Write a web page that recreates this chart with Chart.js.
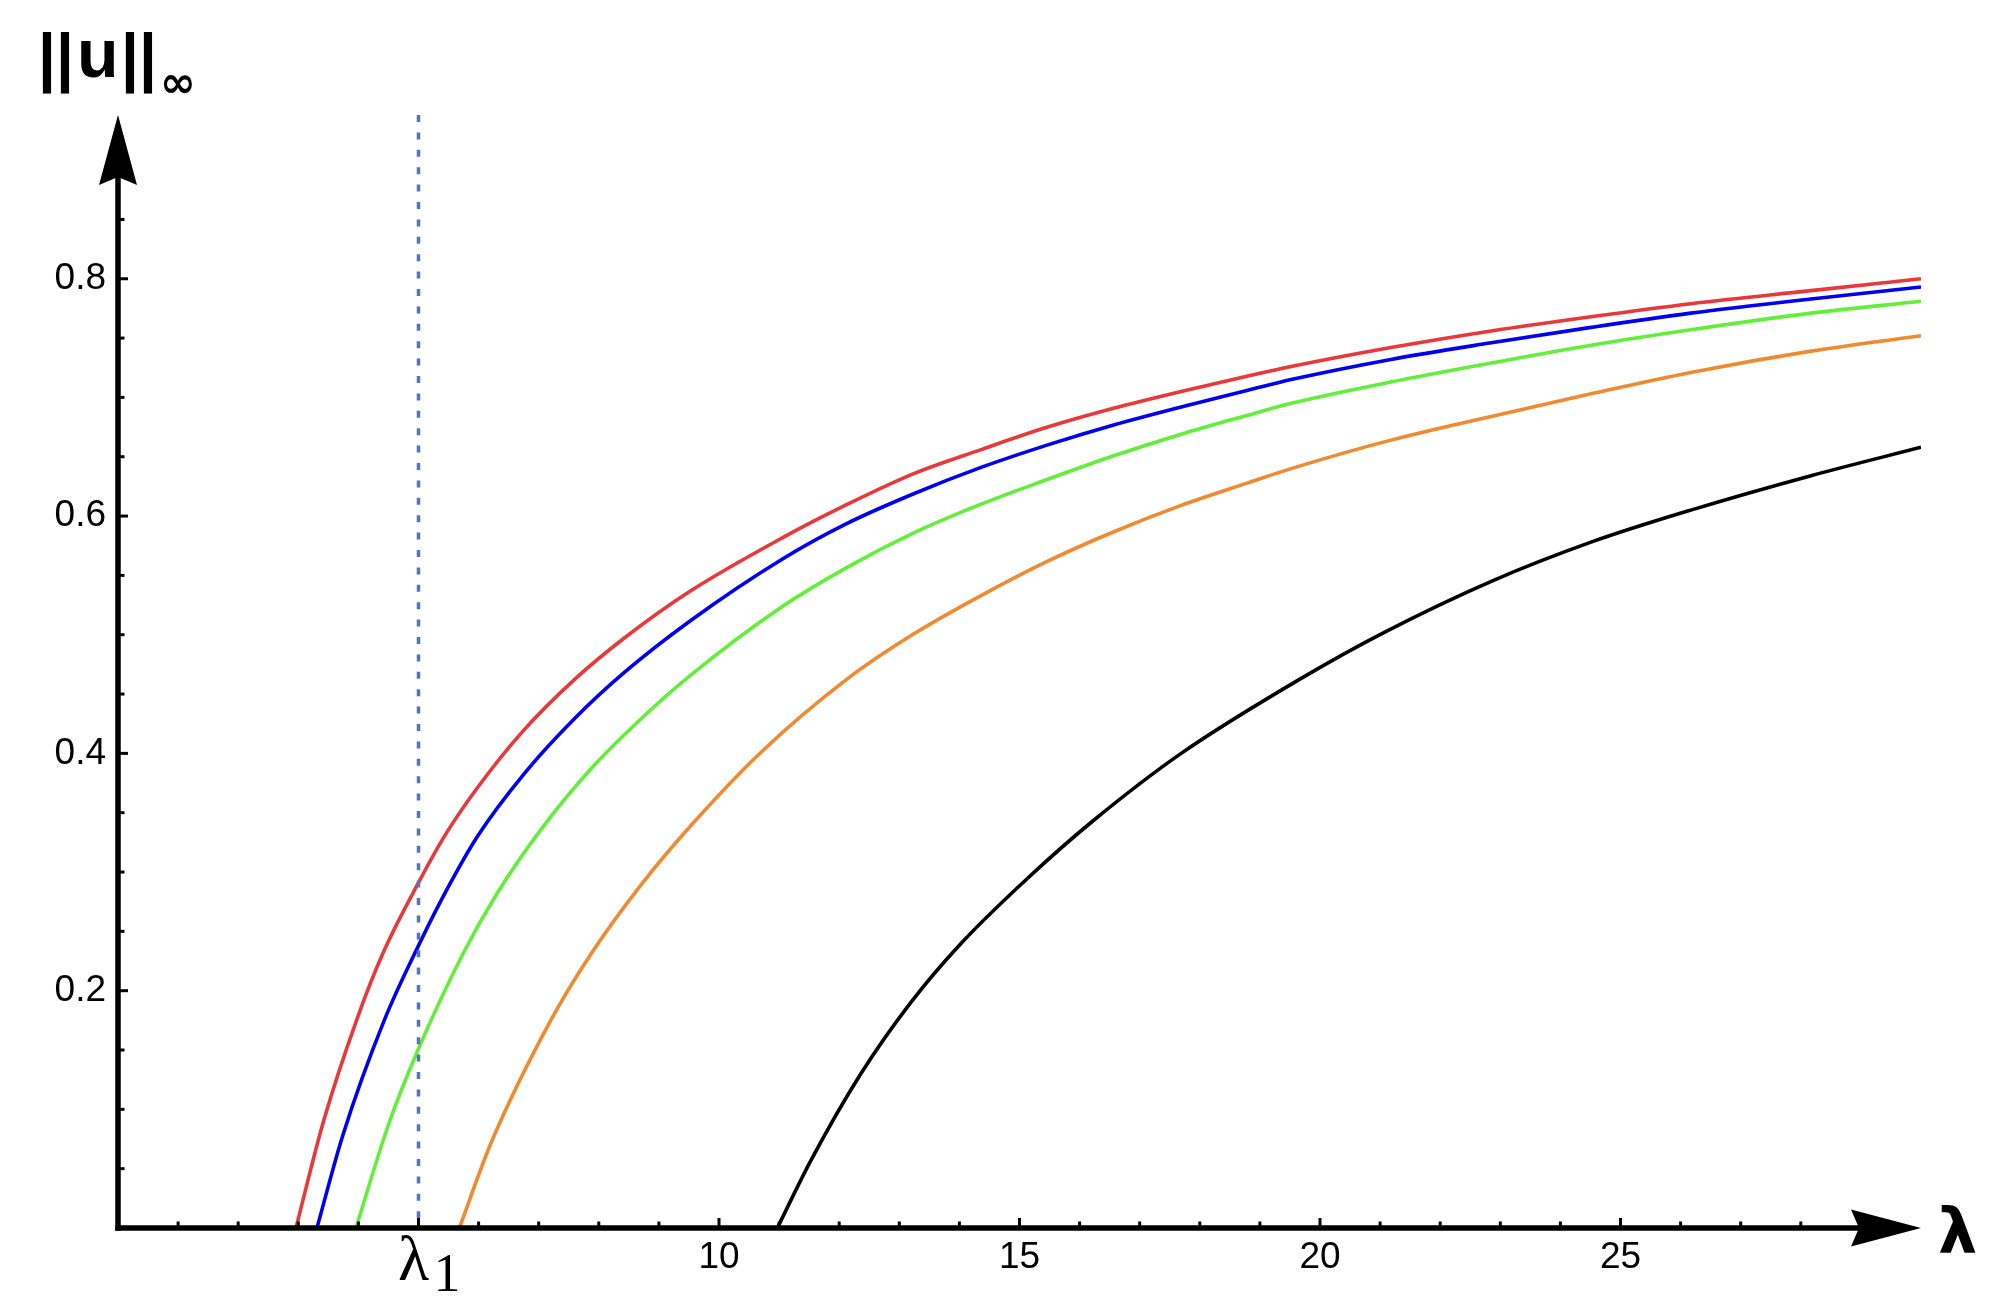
<!DOCTYPE html>
<html>
<head>
<meta charset="utf-8">
<script src="https://cdn.jsdelivr.net/npm/chart.js@4.4.1/dist/chart.umd.min.js"></script>
<style>
html,body{margin:0;padding:0;background:#fff;}
canvas{display:block;}
</style>
</head>
<body>
<canvas id="c" width="1997" height="1303"></canvas>
<script>
// ---- data ----
const lambdaRed = [2.96, 3.42, 3.99, 4.43, 5.0, 5.43, 5.98, 6.76, 7.59, 8.42, 9.53, 11.03, 12.14, 13.25, 14.36, 15.47, 16.58, 17.69, 18.8, 19.52, 21.18, 22.85, 24.51, 26.17, 28.17, 30];
const normRed   = [0, 0.09, 0.178, 0.234, 0.291, 0.33, 0.371, 0.42, 0.462, 0.497, 0.537, 0.581, 0.61, 0.636, 0.656, 0.675, 0.691, 0.705, 0.718, 0.726, 0.742, 0.756, 0.768, 0.779, 0.79, 0.8];

const lambdaBlue = [3.31, 3.74, 4.43, 5.0, 5.48, 5.98, 6.76, 7.59, 8.42, 9.53, 11.03, 12.14, 13.25, 14.36, 15.47, 16.58, 17.69, 18.8, 19.52, 21.18, 22.85, 24.51, 26.17, 28.17, 30];
const normBlue   = [0, 0.078, 0.175, 0.238, 0.286, 0.33, 0.383, 0.429, 0.468, 0.512, 0.563, 0.594, 0.619, 0.641, 0.66, 0.677, 0.692, 0.706, 0.715, 0.732, 0.746, 0.759, 0.771, 0.783, 0.793];

const lambdaGreen = [3.96, 4.5, 5.0, 5.76, 6.32, 7.04, 7.87, 8.7, 9.53, 11.03, 12.14, 13.25, 14.36, 15.47, 16.58, 17.69, 18.8, 19.52, 21.18, 22.85, 24.51, 26.17, 28.17, 30];
const normGreen   = [0, 0.087, 0.151, 0.233, 0.283, 0.336, 0.387, 0.429, 0.466, 0.523, 0.557, 0.586, 0.61, 0.631, 0.651, 0.669, 0.685, 0.695, 0.713, 0.729, 0.744, 0.757, 0.771, 0.781];

const lambdaOrange = [5.68, 6.21, 7.2, 7.87, 8.7, 9.53, 10.7, 12.14, 13.25, 14.36, 15.47, 16.58, 17.69, 18.8, 19.52, 21.18, 22.85, 24.51, 26.17, 28.17, 30];
const normOrange   = [0, 0.072, 0.175, 0.231, 0.289, 0.339, 0.401, 0.463, 0.501, 0.533, 0.562, 0.587, 0.609, 0.628, 0.64, 0.664, 0.684, 0.703, 0.721, 0.739, 0.752];

const lambdaBlack = [10.97, 11.53, 12.36, 13.19, 14.03, 15.14, 16.22, 17.69, 19.68, 21.07, 22.85, 24.51, 26.17, 28.17, 30];
const normBlack   = [0, 0.057, 0.13, 0.19, 0.24, 0.295, 0.343, 0.4, 0.463, 0.502, 0.545, 0.578, 0.605, 0.634, 0.658];

const lambda1 = 5;
const xTickLabels = ['10', '15', '20', '25'];
const yTickLabels = ['0.2', '0.4', '0.6', '0.8'];
const xMin = 0, xMax = 30, yMin = 0, yMax = 0.938;

// ---- helpers ----
function pts(xs, ys) { return xs.map((x, i) => ({ x: x, y: ys[i] })); }
function curve(xs, ys, color) {
  return {
    data: pts(xs, ys), borderColor: color, borderWidth: 3.6, showLine: true,
    pointRadius: 0, fill: false, cubicInterpolationMode: 'monotone',
    borderJoinStyle: 'round', order: 2
  };
}
const TICK_FONT = { family: '"Liberation Sans", Arial, sans-serif', size: 37 };

const axesPlugin = {
  id: 'axesPlugin',
  afterDatasetsDraw(chart) {
    const ctx = chart.ctx, x = chart.scales.x, y = chart.scales.y;
    const x0 = x.getPixelForValue(xMin), y0 = y.getPixelForValue(yMin);
    const xEnd = x.getPixelForValue(xMax), yTop = y.getPixelForValue(yMax);
    ctx.save();
    ctx.strokeStyle = '#000'; ctx.fillStyle = '#000';
    ctx.lineWidth = 3;
    for (let v = 1; v < xMax; v++) {
      const px = x.getPixelForValue(v);
      const major = v % 5 === 0;
      ctx.beginPath(); ctx.moveTo(px, y0); ctx.lineTo(px, y0 - (major ? 10 : 6.5)); ctx.stroke();
    }
    for (let i = 1; i * 0.05 < yMax - 0.06; i++) {
      const py = y.getPixelForValue(i * 0.05);
      const major = i % 4 === 0;
      ctx.beginPath(); ctx.moveTo(x0, py); ctx.lineTo(x0 + (major ? 10 : 6.5), py); ctx.stroke();
    }
    ctx.lineWidth = 5.5; ctx.lineCap = 'butt';
    ctx.beginPath(); ctx.moveTo(x0 - 2.75, y0); ctx.lineTo(xEnd - 50, y0); ctx.stroke();
    ctx.beginPath(); ctx.moveTo(x0, y0 + 2.75); ctx.lineTo(x0, yTop + 50); ctx.stroke();
    ctx.beginPath();
    ctx.moveTo(xEnd, y0); ctx.lineTo(xEnd - 70, y0 - 18.5); ctx.lineTo(xEnd - 62, y0); ctx.lineTo(xEnd - 70, y0 + 18.5);
    ctx.closePath(); ctx.fill();
    ctx.beginPath();
    ctx.moveTo(x0, yTop); ctx.lineTo(x0 - 19, yTop + 70); ctx.lineTo(x0, yTop + 62); ctx.lineTo(x0 + 19, yTop + 70);
    ctx.closePath(); ctx.fill();
    ctx.restore();
  },
  afterDraw(chart) {
    const ctx = chart.ctx, x = chart.scales.x;
    ctx.save();
    ctx.fillStyle = '#000'; ctx.textBaseline = 'alphabetic'; ctx.textAlign = 'left';
    // y-axis title ||u||_inf
    ctx.font = 'bold 64px "Liberation Sans", Arial, sans-serif';
    ctx.fillText('||', 38, 79);
    ctx.font = 'bold 68px "Liberation Sans", Arial, sans-serif';
    ctx.fillText('u', 77, 77);
    ctx.font = 'bold 64px "Liberation Sans", Arial, sans-serif';
    ctx.fillText('||', 121, 79);
    ctx.font = 'bold 43px "DejaVu Sans"';
    ctx.fillText('\u221E', 160, 97);
    // x-axis title lambda
    ctx.font = 'bold 62px "DejaVu Sans"';
    ctx.fillText('\u03BB', 1938, 1252);
    // lambda_1 tick label
    const p1 = x.getPixelForValue(lambda1);
    ctx.textAlign = 'center';
    ctx.font = '64px "Liberation Serif", "DejaVu Serif", serif';
    ctx.fillText('\u03BB', p1 - 5, 1280);
    ctx.textAlign = 'left';
    ctx.font = '54px "Liberation Serif", "DejaVu Serif", serif';
    ctx.fillText('1', p1 + 15, 1291);
    ctx.restore();
  }
};

new Chart(document.getElementById('c').getContext('2d'), {
  type: 'scatter',
  data: {
    datasets: [
      {
        data: [{ x: lambda1, y: yMax }, { x: lambda1, y: yMin }],
        borderColor: 'rgb(84,118,180)', borderWidth: 3.5, borderDash: [7, 10.4],
        showLine: true, pointRadius: 0, fill: false, tension: 0, order: 1
      },
      curve(lambdaRed, normRed, '#e8383a'),
      curve(lambdaBlue, normBlue, '#0000f0'),
      curve(lambdaGreen, normGreen, '#62ef3a'),
      curve(lambdaOrange, normOrange, '#f08a30'),
      curve(lambdaBlack, normBlack, '#000000')
    ]
  },
  options: {
    responsive: false, animation: false, devicePixelRatio: 1,
    layout: { padding: { left: 0, right: 76, top: 115, bottom: 0 } },
    plugins: { legend: { display: false }, tooltip: { enabled: false }, title: { display: false } },
    scales: {
      x: {
        type: 'linear', min: xMin, max: xMax,
        grid: { display: false, drawTicks: false }, border: { display: false },
        ticks: {
          stepSize: 5, autoSkip: false, maxRotation: 0, padding: 8, color: '#000', font: TICK_FONT,
          callback: v => { const s = String(v); return xTickLabels.includes(s) ? s : ''; }
        },
        afterFit: s => { s.height = 75; }
      },
      y: {
        type: 'linear', min: yMin, max: yMax,
        grid: { display: false, drawTicks: false }, border: { display: false },
        ticks: {
          stepSize: 0.2, autoSkip: false, padding: 12, color: '#000', font: TICK_FONT,
          callback: v => { const s = (Math.round(v * 10) / 10).toFixed(1); return (Math.abs(v * 5 - Math.round(v * 5)) < 1e-6 && yTickLabels.includes(s)) ? s : ''; }
        },
        afterFit: s => { s.width = 118; }
      }
    }
  },
  plugins: [axesPlugin]
});
</script>
</body>
</html>
